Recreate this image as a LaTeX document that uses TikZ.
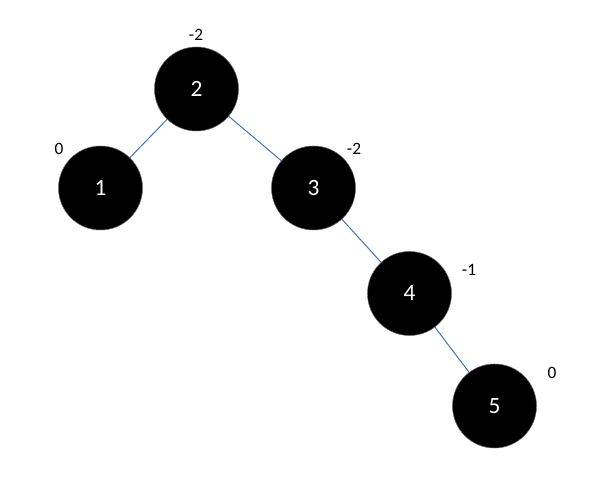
\documentclass[tikz,border=0pt]{standalone}
\usepackage{fontspec}
\setmainfont{Carlito}
\begin{document}
\begin{tikzpicture}[x=0.75pt,y=-0.75pt,
  treenode/.style={circle, fill=black, draw=black!60, line width=0.4pt, minimum size=63pt, inner sep=0pt, text=white, font=\fontsize{17.5}{20}\selectfont},
  bal/.style={font=\fontsize{13}{15}\selectfont, text=black},
  edge/.style={draw={rgb,255:red,68;green,114;blue,196}, line width=0.75pt}]
\useasboundingbox (0,0) rectangle (593,498);
\node[treenode] (n2) at (196.5,89) {2};
\node[treenode] (n1) at (100.5,188) {1};
\node[treenode] (n3) at (313.5,188) {3};
\node[treenode] (n4) at (409.5,293.5) {4};
\node[treenode] (n5) at (494.5,406) {5};
\draw[edge] (n2) -- (n1);
\draw[edge] (n2) -- (n3);
\draw[edge] (n3) -- (n4);
\draw[edge] (n4) -- (n5);
\node[bal] (b2) at (196,35) {-2};
\node[bal] (b1) at (59,149) {0};
\node[bal] (b3) at (354,149) {-2};
\node[bal] (b4) at (469,270) {-1};
\node[bal] (b5) at (552,373) {0};
\end{tikzpicture}
\end{document}
